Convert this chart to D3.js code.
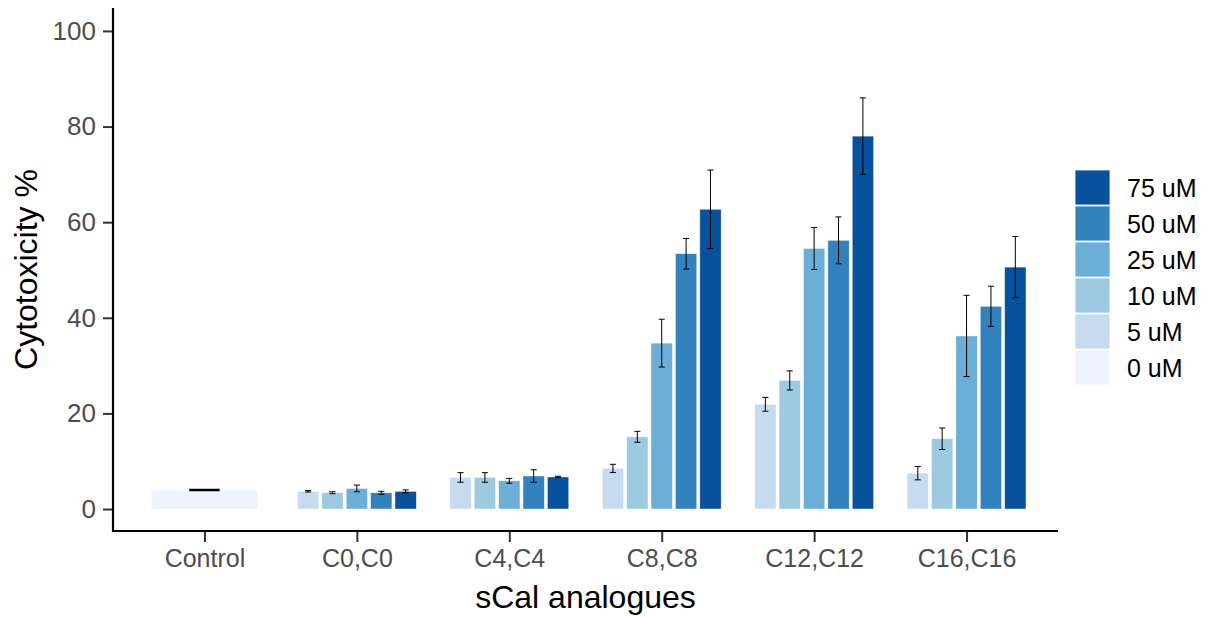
<!DOCTYPE html>
<html><head><meta charset="utf-8">
<script src="https://cdn.jsdelivr.net/npm/d3@7"></script>
<style>body{margin:0;background:#fff}svg{display:block}</style>
</head><body>
<svg id="c" width="1210" height="617"></svg>
<script>
const categories = ["Control","C0,C0","C4,C4","C8,C8","C12,C12","C16,C16"];
const doses = ["0 uM","5 uM","10 uM","25 uM","50 uM","75 uM"];
const colors = ["#eff3ff","#c6dbef","#9ecae1","#6baed6","#3182bd","#08519c"];
// means for 5,10,25,50,75 uM per analogue; Control has only 0 uM
const controlMean = [4.0];
const controlErr = [0.0];
const means5  = [3.7, 6.6, 8.5, 21.9, 7.5];
const means10 = [3.4, 6.6, 15.1, 26.9, 14.7];
const means25 = [4.3, 5.9, 34.7, 54.5, 36.2];
const means50 = [3.4, 6.9, 53.4, 56.2, 42.4];
const means75 = [3.7, 6.7, 62.7, 78.0, 50.6];
const err5  = [0.15, 1.0, 0.85, 1.45, 1.4];
const err10 = [0.2, 1.0, 1.15, 2.0, 2.25];
const err25 = [0.7, 0.5, 5.0, 4.4, 8.5];
const err50 = [0.3, 1.3, 3.2, 4.9, 4.2];
const err75 = [0.3, 0.15, 8.2, 8.0, 6.4];
const yTicks = [0,20,40,60,80,100];

(function(){
const svg = d3.select("#c");
const pL = 113, pR = 1058, pT = 8, pB = 531;
const font = "'Liberation Sans', Arial, sans-serif";

const x = d3.scalePoint().domain(categories).range([pL, pR]).padding(0.6);
const unit = x.step();
const y = d3.scaleLinear().domain([-4.6, 104.8]).range([pB, pT]);
const color = d3.scaleOrdinal().domain(doses).range(colors);

const rows = [{cat: "Control", dose: "0 uM", mean: controlMean[0], err: controlErr[0], slot: 0, n: 1}];
const seriesM = [means5, means10, means25, means50, means75];
const seriesE = [err5, err10, err25, err50, err75];
categories.slice(1).forEach((c, i) => {
  for (let k = 0; k < 5; k++) rows.push({cat: c, dose: doses[k+1], mean: seriesM[k][i], err: seriesE[k][i], slot: k, n: 5});
});
const dodgeW = 0.8, barW = 0.7, ebW = 0.2;
function cx(d){ if (d.n === 1) return x(d.cat); return x(d.cat) + (-dodgeW/2 + (d.slot + 0.5) * (dodgeW / d.n)) * unit; }
function bw(d){ return d.n === 1 ? barW*unit : barW/d.n*unit; }
function ew(d){ return d.n === 1 ? ebW*unit : ebW/d.n*unit; }

const g = svg.append("g");
g.selectAll("rect.bar").data(rows).join("rect").attr("class","bar")
  .attr("x", d => cx(d) - bw(d)/2)
  .attr("width", d => bw(d))
  .attr("y", d => y(d.mean))
  .attr("height", d => y(0) - y(d.mean))
  .attr("fill", d => color(d.dose))
  .attr("stroke", "rgba(255,255,255,0.7)").attr("stroke-width", 0.6);

g.selectAll("path.eb").data(rows).join("path").attr("class","eb")
  .attr("d", d => {
    const c = cx(d), h = ew(d)/2;
    const y1 = y(d.mean + d.err), y2 = y(d.mean - d.err);
    return `M${c-h},${y1}H${c+h}M${c},${y1}V${y2}M${c-h},${y2}H${c+h}`;
  })
  .attr("fill","none").attr("stroke","#000").attr("stroke-width", d => d.err === 0 ? 2.5 : 1);

const yAxis = svg.append("g").attr("transform", `translate(${pL},0)`)
  .call(d3.axisLeft(y).tickValues(yTicks).tickSize(10).tickPadding(7));
yAxis.select(".domain").remove();
yAxis.selectAll(".tick line").attr("stroke","#333").attr("stroke-width",2);
yAxis.selectAll(".tick text").attr("font-family",font).attr("font-size",26).attr("fill","#4d4d4d");

const xAxis = svg.append("g").attr("transform", `translate(0,${pB})`)
  .call(d3.axisBottom(x).tickSize(11).tickPadding(7));
xAxis.select(".domain").remove();
xAxis.selectAll(".tick line").attr("stroke","#333").attr("stroke-width",2);
xAxis.selectAll(".tick text").attr("font-family",font).attr("font-size",25).attr("fill","#4d4d4d");

svg.append("path").attr("d", `M${pL},${pT}V${pB}H${pR}`)
  .attr("fill","none").attr("stroke","#000").attr("stroke-width",2.2);

svg.append("text").attr("transform", `translate(37,${(pT+pB)/2}) rotate(-90)`)
  .attr("text-anchor","middle").attr("font-family",font).attr("font-size",32).attr("fill","#000")
  .text("Cytotoxicity %");
svg.append("text").attr("x",(pL+pR)/2).attr("y",608)
  .attr("text-anchor","middle").attr("font-family",font).attr("font-size",32).attr("fill","#000")
  .text("sCal analogues");

const legOrder = doses.slice().reverse();
const lg = svg.append("g").attr("transform","translate(1075,170)");
legOrder.forEach((d,i) => {
  lg.append("rect").attr("x",0).attr("y",i*36).attr("width",35).attr("height",35)
    .attr("fill",color(d)).attr("stroke","#fff").attr("stroke-width",0.8);
  lg.append("text").attr("x",52).attr("y",i*36+17.5).attr("dy","0.36em")
    .attr("font-family",font).attr("font-size",25).attr("fill","#000").text(d);
});
})();
</script>
</body></html>
